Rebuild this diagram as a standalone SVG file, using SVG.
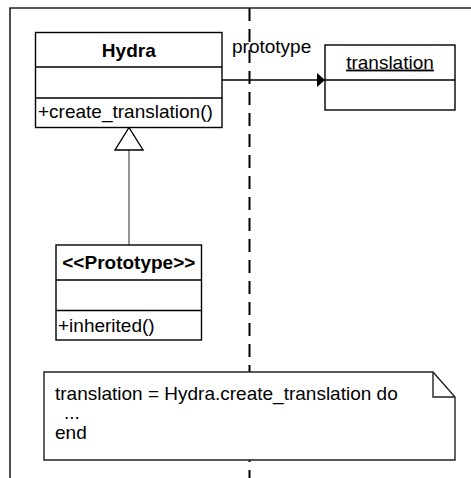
<svg xmlns="http://www.w3.org/2000/svg" width="471" height="478" viewBox="0 0 471 478">
<style>
text{font-family:"Liberation Sans",Arial,sans-serif;font-size:19px;fill:#000}
.b{font-weight:bold}
.box{fill:#fff;stroke:#000;stroke-width:1.4}
.ln{stroke:#000;stroke-width:1.4;fill:none}
</style>
<defs>
<marker id="arr" markerWidth="9" markerHeight="14" refX="8" refY="7" orient="auto" markerUnits="userSpaceOnUse">
<path d="M0,0 L8,7 L0,14 z" fill="#000"/>
</marker>
</defs>
<g id="frame">
<path d="M10,478 V8 H471" fill="none" stroke="#222" stroke-width="1.6"/>
</g>
<g id="connectors">
<line x1="249.5" y1="8" x2="249.5" y2="478" stroke="#000" stroke-width="2" stroke-dasharray="13 8"/>
<line x1="222" y1="80" x2="325" y2="80" class="ln" marker-end="url(#arr)"/>
<text x="232" y="53">prototype</text>
<line x1="129" y1="150" x2="129" y2="245" stroke="#666" stroke-width="1.4"/>
<path d="M129,127.5 L143,150 L115,150 z" fill="#fff" stroke="#000" stroke-width="1.4"/>
</g>
<g id="hydra">
<rect x="35.5" y="32.5" width="186.5" height="95" class="box"/>
<line x1="35.5" y1="67" x2="222" y2="67" class="ln"/>
<line x1="35.5" y1="98" x2="222" y2="98" class="ln"/>
<text x="128.8" y="56.5" text-anchor="middle" class="b">Hydra</text>
<text x="38" y="117.5">+create_translation()</text>
</g>
<g id="translation">
<rect x="325" y="45" width="130" height="65" class="box"/>
<line x1="325" y1="80" x2="455" y2="80" class="ln"/>
<text x="390" y="68.5" text-anchor="middle" text-decoration="underline">translation</text>
</g>
<g id="prototype">
<rect x="56" y="245" width="145.5" height="95" class="box"/>
<line x1="56" y1="280" x2="201.5" y2="280" class="ln"/>
<line x1="56" y1="310.5" x2="201.5" y2="310.5" class="ln"/>
<text x="128.8" y="269" text-anchor="middle" class="b">&lt;&lt;Prototype&gt;&gt;</text>
<text x="58" y="331.5">+inherited()</text>
</g>
<g id="note">
<path d="M44,372 H433 L455,397 V460 H44 z" fill="#fff" stroke="#222" stroke-width="1.4"/>
<path d="M433,372 V397 H455" fill="none" stroke="#222" stroke-width="1.4"/>
<text x="55" y="399.5">translation = Hydra.create_translation do</text>
<text x="64" y="418.5">...</text>
<text x="55" y="438.5">end</text>
</g>
</svg>
